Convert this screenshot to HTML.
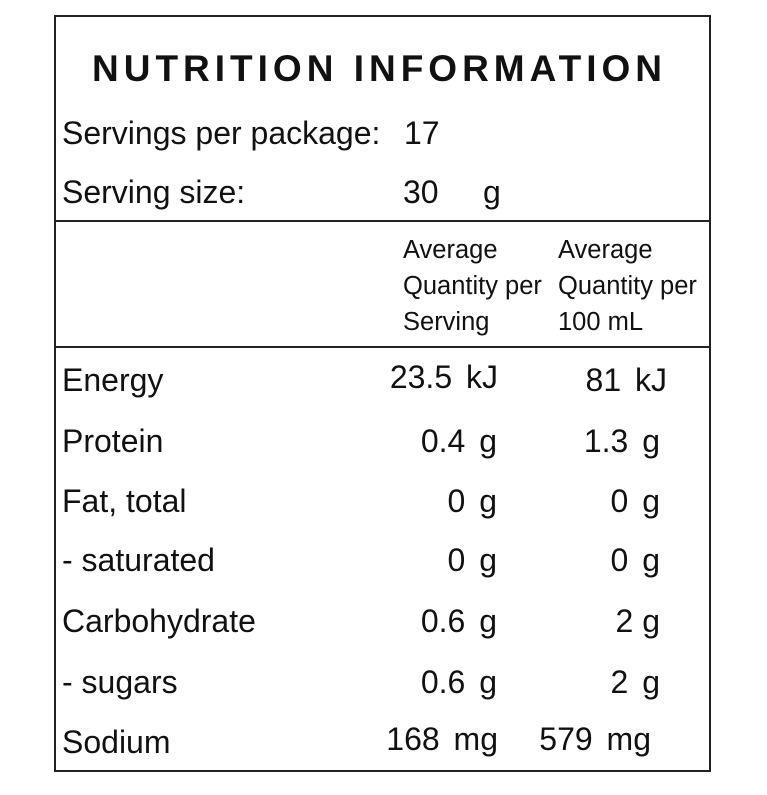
<!DOCTYPE html>
<html><head><style>
body{margin:0;background:#fff;width:767px;height:795px;position:relative;font-family:"Liberation Sans",Arial,sans-serif;color:#111;overflow:hidden}
.box{position:absolute;left:54px;top:15px;width:653px;height:753px;border:2px solid #222}
.h{position:absolute;left:54px;width:657px;height:2px;background:#222}
.t{position:absolute;font-size:32px;line-height:32px;white-space:nowrap}
.s{position:absolute;font-size:25.5px;line-height:25px;white-space:nowrap}
.r{text-align:right}
.w{word-spacing:5px}
</style></head><body>
<div class="box"></div>
<div class="h" style="top:220px"></div>
<div class="h" style="top:346px"></div>
<div class="t" style="left:92px;top:50px;font-size:37px;line-height:37px;font-weight:bold;letter-spacing:5px">NUTRITION INFORMATION</div>
<div class="t" style="left:62px;top:117px">Servings per package:</div>
<div class="t" style="left:404px;top:117px">17</div>
<div class="t" style="left:62px;top:176px">Serving size:</div>
<div class="t" style="left:403px;top:176px">30</div>
<div class="t" style="left:483px;top:176px">g</div>
<div class="s" style="left:403px;top:238px">Average</div>
<div class="s" style="left:558px;top:238px">Average</div>
<div class="s" style="left:403px;top:274px">Quantity per</div>
<div class="s" style="left:558px;top:274px">Quantity per</div>
<div class="s" style="left:403px;top:310px">Serving</div>
<div class="s" style="left:558px;top:310px">100 mL</div>

<div class="t" style="left:62px;top:364px">Energy</div>
<div class="t r w" style="right:269px;top:361px">23.5 kJ</div>
<div class="t r w" style="right:100px;top:364px">81 kJ</div>

<div class="t" style="left:62px;top:425px">Protein</div>
<div class="t r w" style="right:270px;top:425px">0.4 g</div>
<div class="t r w" style="right:107px;top:425px">1.3 g</div>

<div class="t" style="left:62px;top:485px">Fat, total</div>
<div class="t r w" style="right:270px;top:485px">0 g</div>
<div class="t r w" style="right:107px;top:485px">0 g</div>

<div class="t" style="left:62px;top:544px">- saturated</div>
<div class="t r w" style="right:270px;top:544px">0 g</div>
<div class="t r w" style="right:107px;top:544px">0 g</div>

<div class="t" style="left:62px;top:605px">Carbohydrate</div>
<div class="t r w" style="right:270px;top:605px">0.6 g</div>
<div class="t r" style="right:107px;top:605px">2 g</div>

<div class="t" style="left:62px;top:666px">- sugars</div>
<div class="t r w" style="right:270px;top:666px">0.6 g</div>
<div class="t r w" style="right:107px;top:666px">2 g</div>

<div class="t" style="left:62px;top:726px">Sodium</div>
<div class="t r w" style="right:269px;top:723px">168 mg</div>
<div class="t r w" style="right:116px;top:723px">579 mg</div>
</body></html>
